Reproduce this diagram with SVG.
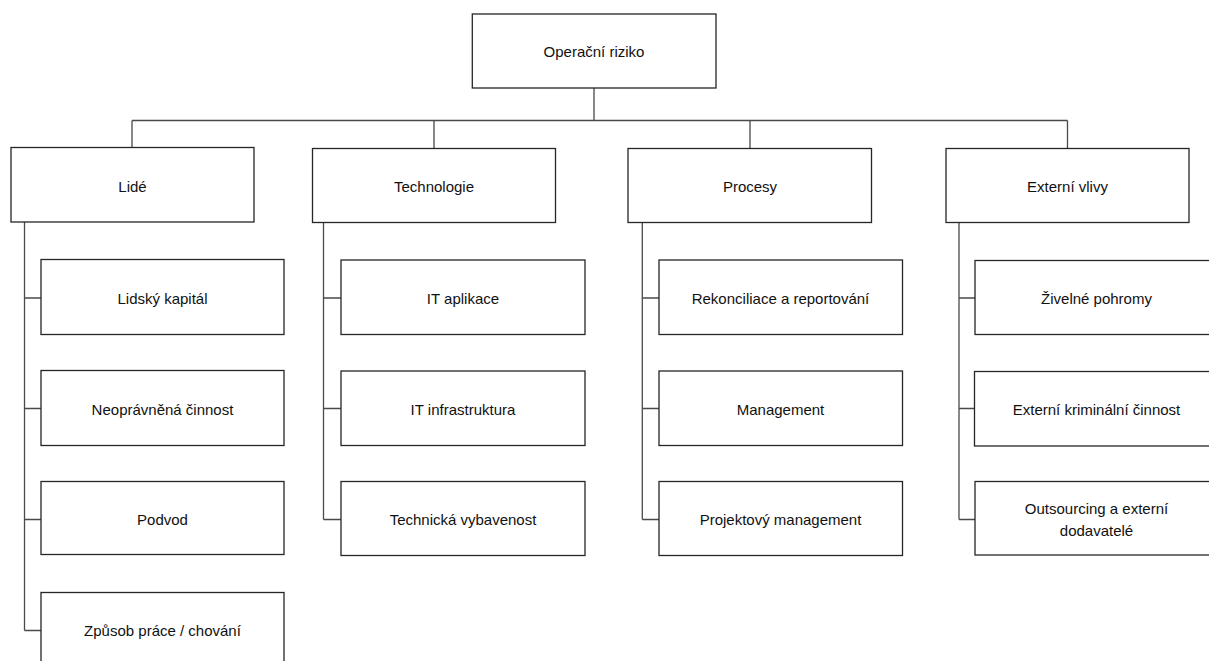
<svg xmlns="http://www.w3.org/2000/svg" width="1209" height="661" viewBox="0 0 1209 661">
<style>
.box{fill:#fff;stroke:#262626;stroke-width:1.3}
.ln{fill:none;stroke:#4a4a4a;stroke-width:1.3}
text{font-family:"Liberation Sans",Arial,sans-serif;font-size:15px;fill:#111;text-anchor:middle}
</style>
<rect width="1209" height="661" fill="#fff"/>
<g id="connectors">
<path class="ln" d="M594,88V120.5M132,120.5H1067.5M132,120.5V148M434,120.5V148.5M750,120.5V148.5M1067.5,120.5V148.5"/>
<path class="ln" d="M24.5,222V630.5M24.5,298H41M24.5,408.5H41M24.5,519.5H41M24.5,630.5H41"/>
<path class="ln" d="M323.5,222.5V519.5M323.5,298H341M323.5,408.5H341M323.5,519.5H341"/>
<path class="ln" d="M642.3,222.5V519.5M642.3,298H659M642.3,408.5H659M642.3,519.5H659"/>
<path class="ln" d="M959,222.5V519.5M959,298H975M959,408.5H975M959,519.5H975"/>
</g>
<g id="root"><rect class="box" x="472.3" y="14" width="243.7" height="74"/><text x="594" y="57">Operační riziko</text></g>
<g id="lide"><rect class="box" x="11" y="147.5" width="243" height="74.5"/><text x="132.5" y="191.5">Lidé</text></g>
<g id="technologie"><rect class="box" x="312.5" y="148.5" width="243" height="74"/><text x="434" y="191.5">Technologie</text></g>
<g id="procesy"><rect class="box" x="628" y="148.5" width="243.5" height="74"/><text x="750" y="191.5">Procesy</text></g>
<g id="externi"><rect class="box" x="946" y="148.5" width="243" height="74"/><text x="1067.5" y="191.5">Externí vlivy</text></g>

<g id="lidsky"><rect class="box" x="41" y="259.5" width="243" height="75"/><text x="162.5" y="303.5">Lidský kapitál</text></g>
<g id="neopravnena"><rect class="box" x="41" y="370.5" width="243" height="75"/><text x="162.5" y="414.5">Neoprávněná činnost</text></g>
<g id="podvod"><rect class="box" x="41" y="481.5" width="243" height="73"/><text x="162.5" y="525">Podvod</text></g>
<g id="zpusob"><rect class="box" x="41" y="592.5" width="243" height="75"/><text x="162.5" y="636">Způsob práce / chování</text></g>

<g id="itapl"><rect class="box" x="341" y="260" width="244" height="74.5"/><text x="463" y="303.5">IT aplikace</text></g>
<g id="itinfra"><rect class="box" x="341" y="371" width="244" height="74.5"/><text x="463" y="414.5">IT infrastruktura</text></g>
<g id="techvyb"><rect class="box" x="341" y="481.5" width="244" height="74"/><text x="463" y="525">Technická vybavenost</text></g>

<g id="rekonc"><rect class="box" x="659" y="260" width="243.5" height="74.5"/><text x="780.5" y="303.5">Rekonciliace a reportování</text></g>
<g id="mgmt"><rect class="box" x="659" y="371" width="243.5" height="74.5"/><text x="780.5" y="414.5">Management</text></g>
<g id="projmgmt"><rect class="box" x="659" y="481.5" width="243.5" height="74"/><text x="780.5" y="525">Projektový management</text></g>

<g id="zivelne"><rect class="box" x="975" y="260.5" width="243" height="74"/><text x="1096.5" y="303.5">Živelné pohromy</text></g>
<g id="kriminal"><rect class="box" x="974.5" y="371.5" width="243" height="74.5"/><text x="1096.5" y="414.5">Externí kriminální činnost</text></g>
<g id="outsourcing"><rect class="box" x="975" y="481.5" width="243" height="73.5"/><text x="1096.5" y="513.5">Outsourcing a externí</text><text x="1096.5" y="536">dodavatelé</text></g>
</svg>
